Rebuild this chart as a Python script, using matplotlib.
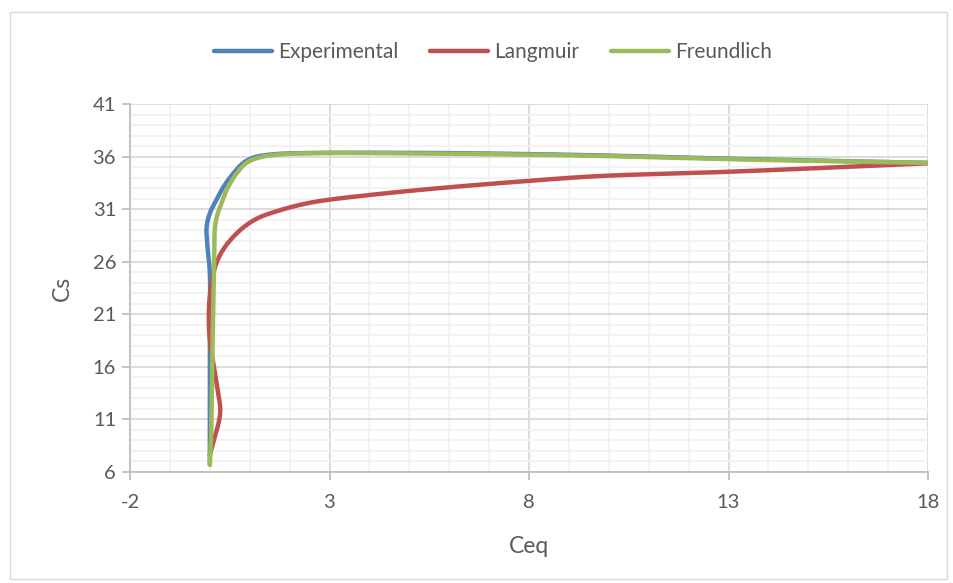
import numpy as np
import matplotlib.pyplot as plt
from matplotlib.patches import Rectangle
from matplotlib.ticker import FixedLocator, MultipleLocator

# values
exp_ceq = [0.0, 0.0, 0.0, 0.0, -0.06, -0.08, 0.0, 0.17, 0.34, 0.59, 0.84, 1.09,
           1.43, 2.0, 5.2, 9.3, 13.0, 18.0]
exp_cs = [6.7, 12.0, 19.0, 25.0, 27.5, 29.3, 30.6, 31.9, 33.1, 34.4, 35.4, 35.9,
          36.15, 36.3, 36.35, 36.15, 35.8, 35.4]

lang_ceq = [0.0, 0.26, 0.21, 0.13, 0.0, -0.02, 0.05, 0.15, 0.36, 0.76, 1.18,
            1.76, 2.43, 3.0, 5.18, 8.03, 9.78, 13.04, 18.0]
lang_cs = [7.6, 11.6, 13.5, 15.4, 18.6, 21.7, 24.0, 25.7, 27.3, 29.0, 30.1,
           30.9, 31.55, 31.9, 32.8, 33.7, 34.15, 34.56, 35.36]

freu_ceq = [0.0, 0.03, 0.07, 0.11, 0.13, 0.2, 0.3, 0.42, 0.67, 0.92, 1.18, 1.6,
            2.26, 5.2, 9.3, 13.0, 18.0]
freu_cs = [6.7, 9.0, 18.5, 26.0, 29.3, 30.6, 31.6, 32.8, 34.4, 35.4, 35.85, 36.15,
           36.3, 36.3, 36.1, 35.75, 35.4]

x_ticks = [-2, 3, 8, 13, 18]
y_ticks = [6, 11, 16, 21, 26, 31, 36, 41]

series = [("Experimental", exp_ceq, exp_cs, "#4F81BD"),
          ("Langmuir", lang_ceq, lang_cs, "#C0504D"),
          ("Freundlich", freu_ceq, freu_cs, "#9BBB59")]


def smooth(xs, ys, sx=39.9, sy=10.51, n=30):
    # centripetal catmull-rom, done in screen-like units
    p = np.column_stack([np.array(xs) * sx, np.array(ys) * sy])
    p = np.vstack([2 * p[0] - p[1], p, 2 * p[-1] - p[-2]])
    out = []
    for i in range(1, len(p) - 2):
        p0, p1, p2, p3 = p[i - 1], p[i], p[i + 1], p[i + 2]
        t0 = 0.0
        t1 = t0 + max(np.linalg.norm(p1 - p0), 1e-6) ** 0.5
        t2 = t1 + max(np.linalg.norm(p2 - p1), 1e-6) ** 0.5
        t3 = t2 + max(np.linalg.norm(p3 - p2), 1e-6) ** 0.5
        t = np.linspace(t1, t2, n)[:, None]
        a1 = (t1 - t) / (t1 - t0) * p0 + (t - t0) / (t1 - t0) * p1
        a2 = (t2 - t) / (t2 - t1) * p1 + (t - t1) / (t2 - t1) * p2
        a3 = (t3 - t) / (t3 - t2) * p2 + (t - t2) / (t3 - t2) * p3
        b1 = (t2 - t) / (t2 - t0) * a1 + (t - t0) / (t2 - t0) * a2
        b2 = (t3 - t) / (t3 - t1) * a2 + (t - t1) / (t3 - t1) * a3
        c = (t2 - t) / (t2 - t1) * b1 + (t - t1) / (t2 - t1) * b2
        out.append(c)
    out = np.vstack(out)
    return out[:, 0] / sx, out[:, 1] / sy


plt.rcParams['font.family'] = ['Lato', 'DejaVu Sans']
plt.rcParams['axes.unicode_minus'] = False
txt = "#595959"

fig = plt.figure(figsize=(9.54, 5.83), dpi=100)
ax = fig.add_axes([130 / 954, 1 - 472 / 583, 798 / 954, 368 / 583])

for name, xs, ys, col in series:
    sx_, sy_ = smooth(xs, ys)
    ax.plot(sx_, sy_, color=col, lw=3.2, label=name, solid_capstyle='round')

ax.set_xlim(-2, 18)
ax.set_ylim(6, 41)
ax.xaxis.set_major_locator(FixedLocator(x_ticks))
ax.yaxis.set_major_locator(FixedLocator(y_ticks))
ax.xaxis.set_minor_locator(MultipleLocator(1))
ax.yaxis.set_minor_locator(MultipleLocator(1))
ax.grid(which='minor', color='#f2f2f2', lw=1.3)
ax.grid(which='major', color='#d9d9d9', lw=1.3)
ax.set_axisbelow(True)

for s in ['top', 'right']:
    ax.spines[s].set_visible(False)
for s in ['left', 'bottom']:
    ax.spines[s].set_color('#bfbfbf')
    ax.spines[s].set_linewidth(1.3)

ax.tick_params(which='major', length=6, width=1.3, color='#bfbfbf',
               labelsize=14.5, labelcolor=txt)
ax.tick_params(axis='x', which='major', pad=10)
ax.tick_params(axis='y', which='major', pad=4)
ax.tick_params(which='minor', length=0)

ax.set_xlabel("Ceq", fontsize=16.5, color=txt, labelpad=18)
ax.set_ylabel("Cs", fontsize=16.5, color=txt, labelpad=14)

leg = ax.legend(loc='center', bbox_to_anchor=(493 / 954, 1 - 52 / 583),
                bbox_transform=fig.transFigure, ncol=3, frameon=False,
                fontsize=15, labelcolor=txt, handlelength=2.8, handletextpad=0.3,
                columnspacing=1.5)

fig.patches.append(Rectangle((10 / 954, 4 / 583), 937 / 954, 567 / 583,
                             transform=fig.transFigure, fill=False,
                             edgecolor='#d9d9d9', lw=1))

fig.savefig("out.png", dpi=100)
